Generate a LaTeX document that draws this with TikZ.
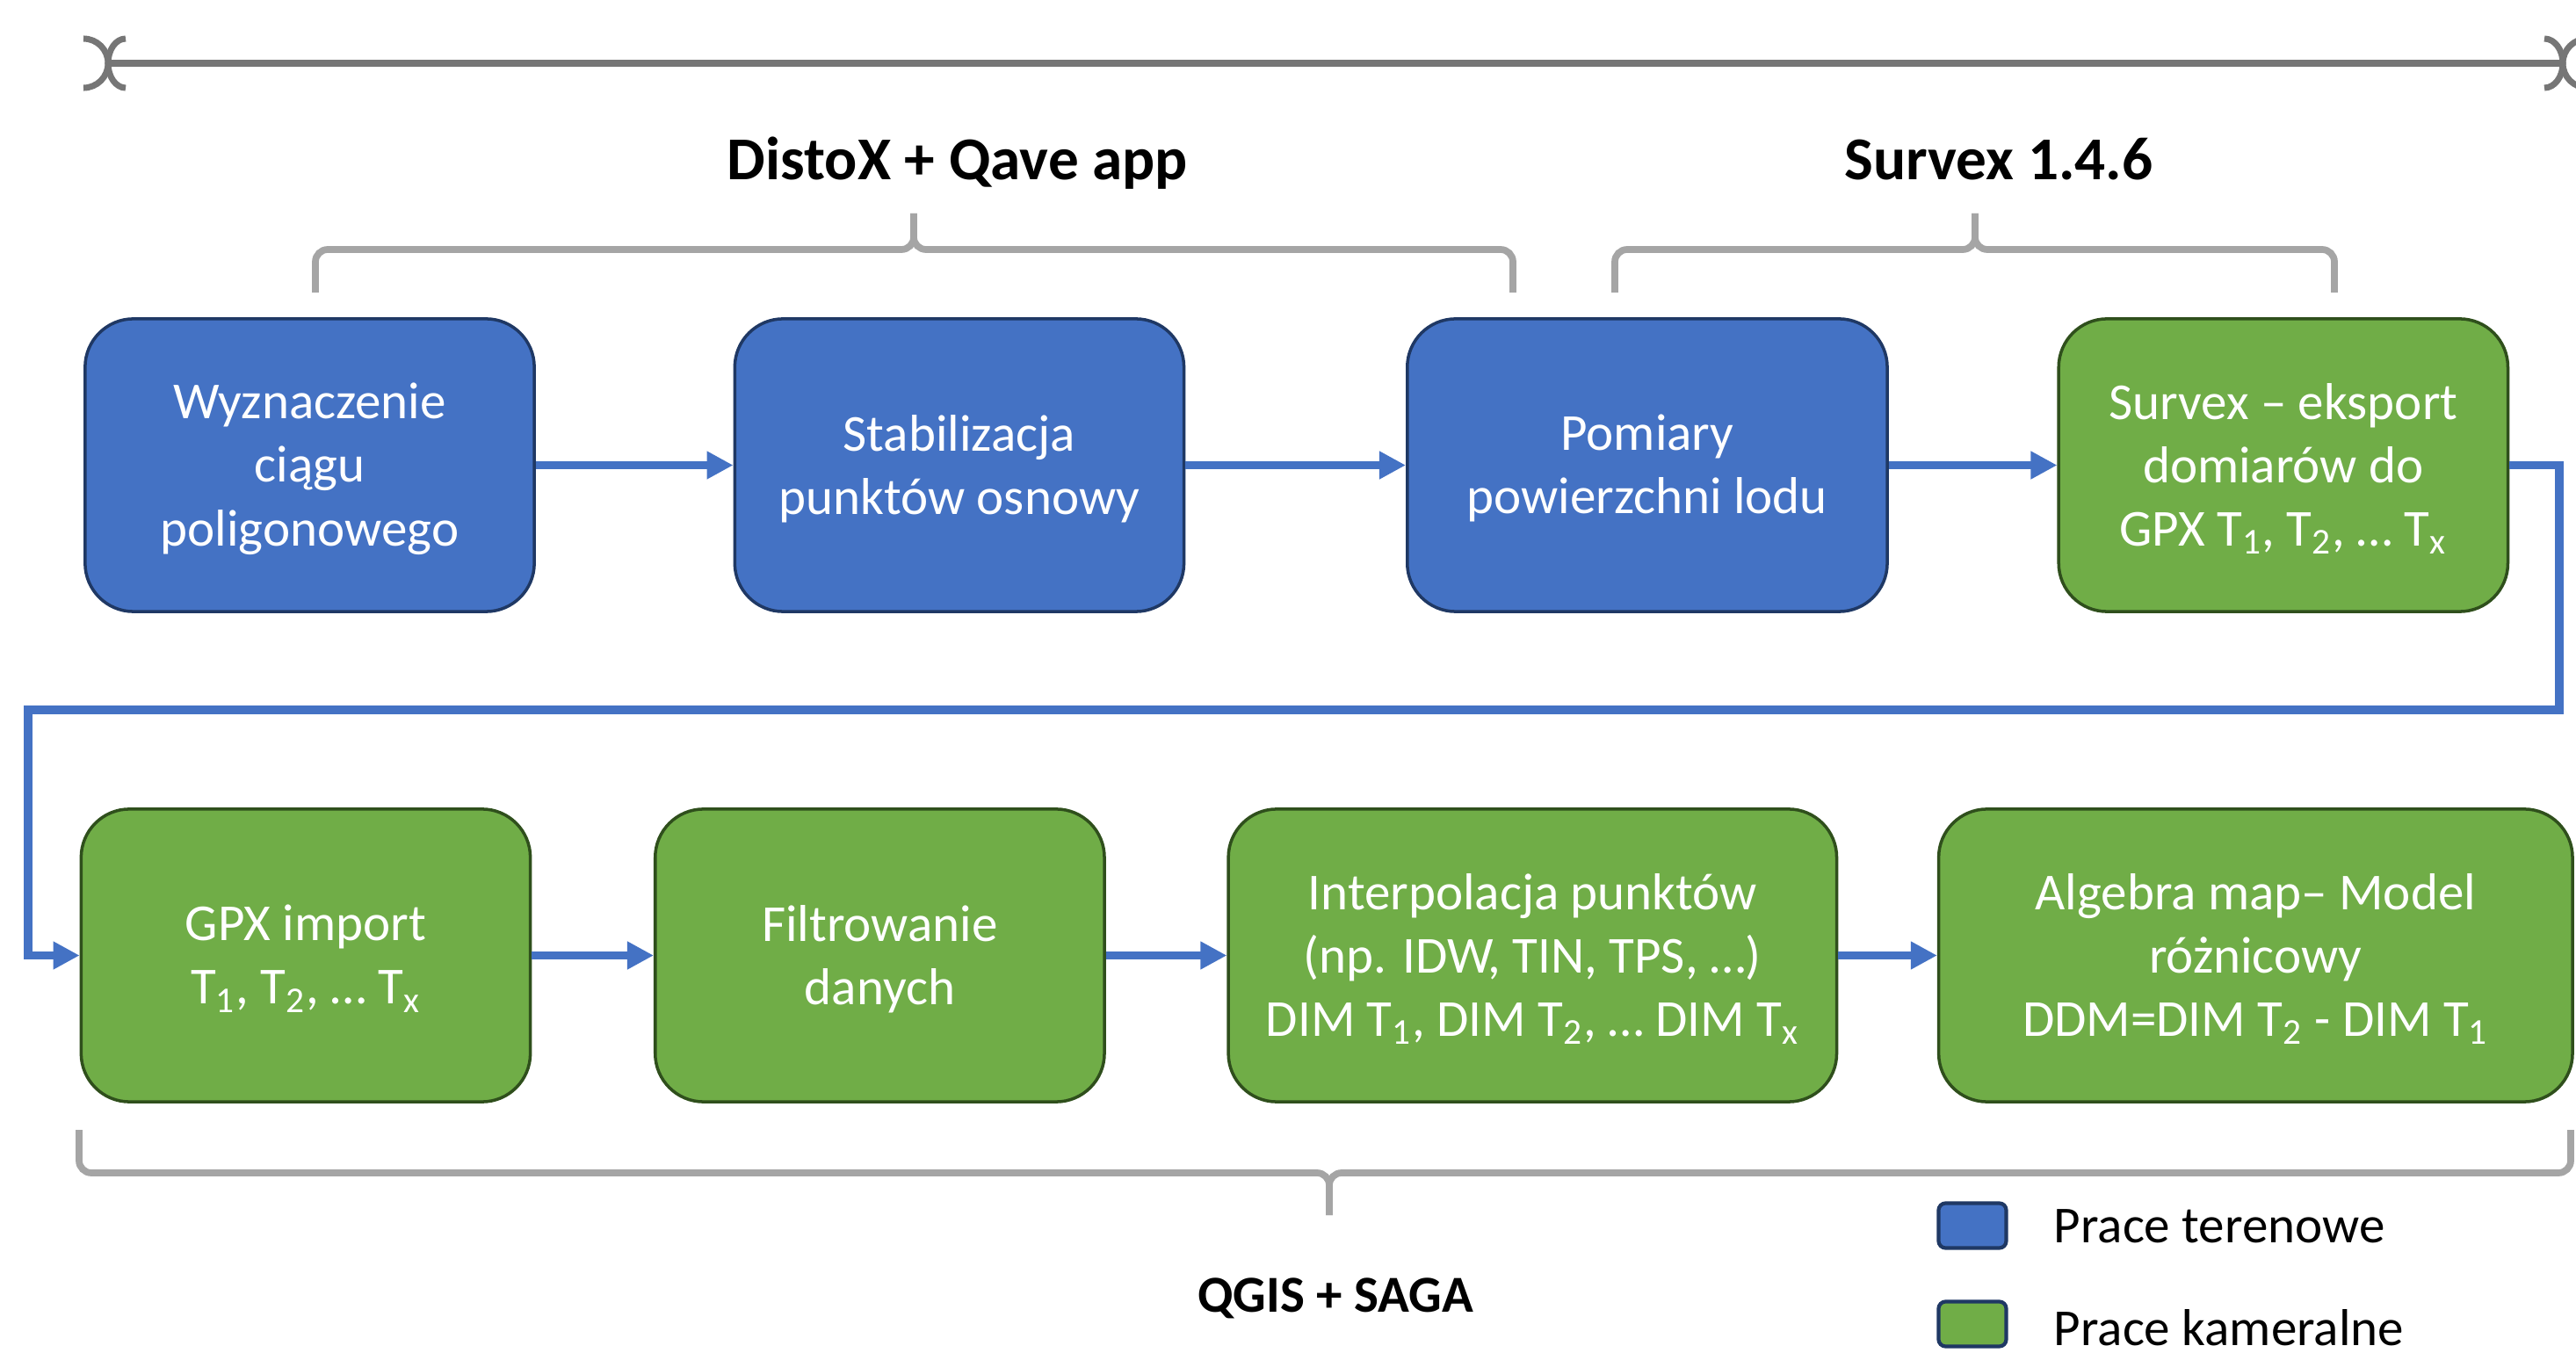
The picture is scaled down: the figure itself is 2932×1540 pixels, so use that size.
\documentclass[tikz,border=0pt]{standalone}
\usepackage{fontspec}
\setmainfont{Carlito}
\usepackage{tikz}
\usetikzlibrary{arrows.meta, positioning}

\definecolor{niebieski}{HTML}{4472C4}
\definecolor{niebieskiRam}{HTML}{1F3864}
\definecolor{zielony}{HTML}{70AD47}
\definecolor{zielonyRam}{HTML}{2F4F1C}
\definecolor{szaryKlamra}{HTML}{A5A5A5}
\definecolor{szaryLinia}{HTML}{767676}

\tikzset{
  krok/.style={rectangle, rounded corners=0.55cm, line width=1pt, minimum width=5.11cm, minimum height=3.33cm, align=center, text=white, inner sep=2pt, text depth=0.5pt},
  teren/.style={krok, fill=niebieski, draw=niebieskiRam},
  kamer/.style={krok, fill=zielony, draw=zielonyRam},
  flow/.style={draw=niebieski, line width=2.6pt, -{Triangle[length=0.3cm,width=0.3cm]}},
  klamra/.style={draw=szaryKlamra, line width=2.2pt, rounded corners=0.14cm},
  linia/.style={draw=szaryLinia, line width=2pt},
  legenda/.style={rectangle, draw=niebieskiRam, line width=1.2pt, rounded corners=0.08cm, minimum width=0.77cm, minimum height=0.51cm, inner sep=0pt},
  podpis/.style={font=\fontsize{16.8pt}{20.5pt}\selectfont\bfseries},
  duzyPodpis/.style={font=\fontsize{19.7pt}{24pt}\selectfont\bfseries}
}

\begin{document}
\begin{tikzpicture}[x=0.01cm, y=-0.01cm, font=\fontsize{16.8pt}{20.5pt}\selectfont]
  \useasboundingbox (0,0) rectangle (2932,1540);

  \draw[linia] (123,72) -- (2917,72);
  \draw[linia] (95,44) arc[start angle=90, end angle=-90, x radius=0.28cm, y radius=0.28cm];
  \draw[linia] (143,44) arc[start angle=90, end angle=270, x radius=0.2cm, y radius=0.28cm];
  \draw[linia] (2896,44) arc[start angle=90, end angle=-90, x radius=0.21cm, y radius=0.28cm];
  \draw[linia] (2945,44) arc[start angle=90, end angle=270, x radius=0.28cm, y radius=0.28cm];

  \node[duzyPodpis] (distox) at (1090,186) {DistoX + Qave app};
  \node[duzyPodpis] (survex) at (2275,181) {Survex 1.4.6};
  \node[podpis] (qgis) at (1520,1478) {QGIS + SAGA};

  \draw[klamra] (359,333) -- (359,284) -- (1040,284) -- (1040,243);
  \draw[klamra] (1722,333) -- (1722,284) -- (1040,284) -- (1040,243);
  \draw[klamra] (1838,333) -- (1838,284) -- (2248,284) -- (2248,243);
  \draw[klamra] (2657,333) -- (2657,284) -- (2248,284) -- (2248,243);
  \draw[klamra] (90,1286) -- (90,1335) -- (1513,1335) -- (1513,1383);
  \draw[klamra] (2926,1286) -- (2926,1335) -- (1513,1335) -- (1513,1383);

  \node[teren] (wyzn) at (352.5,529.5) {Wyznaczenie\\ciągu\\poligonowego};
  \node[teren, right=2.245cm of wyzn] (stab) {Stabilizacja\\punktów osnowy};
  \node[teren, right=2.505cm of stab, minimum width=5.46cm] (pom) {Pomiary\\powierzchni lodu};
  \node[kamer, right=1.915cm of pom] (eksp) {Survex – eksport\\domiarów do\\GPX T\textsubscript{1}, T\textsubscript{2}, … T\textsubscript{x}};

  \node[kamer] (gpx) at (348,1087.5) {GPX import\\T\textsubscript{1}, T\textsubscript{2}, … T\textsubscript{x}};
  \node[kamer, right=1.385cm of gpx] (filtr) {Filtrowanie\\danych};
  \node[kamer, right=1.375cm of filtr, minimum width=6.92cm] (interp) {Interpolacja punktów\\(np. IDW, TIN, TPS, …)\\DIM T\textsubscript{1}, DIM T\textsubscript{2}, … DIM T\textsubscript{x}};
  \node[kamer, right=1.125cm of interp, minimum width=7.21cm] (alg) {Algebra map– Model\\różnicowy\\DDM=DIM T\textsubscript{2} - DIM T\textsubscript{1}};

  \coordinate (zwrotP) at (2913,808);
  \coordinate (zwrotL) at (32,808);

  \draw[flow] (wyzn) -- (stab);
  \draw[flow] (stab) -- (pom);
  \draw[flow] (pom) -- (eksp);
  \draw[flow] (eksp.east) -| (zwrotP) -- (zwrotL) |- (gpx.west);
  \draw[flow] (gpx) -- (filtr);
  \draw[flow] (filtr) -- (interp);
  \draw[flow] (interp) -- (alg);

  \node[legenda, fill=niebieski] (legT) at (2245,1395) {};
  \node[legenda, fill=zielony] (legK) at (2245,1507) {};
  \node[anchor=base west, inner sep=0pt] (txtT) at (2337,1414) {Prace terenowe};
  \node[anchor=base west, inner sep=0pt] (txtK) at (2337,1531) {Prace kameralne};
\end{tikzpicture}
\end{document}
